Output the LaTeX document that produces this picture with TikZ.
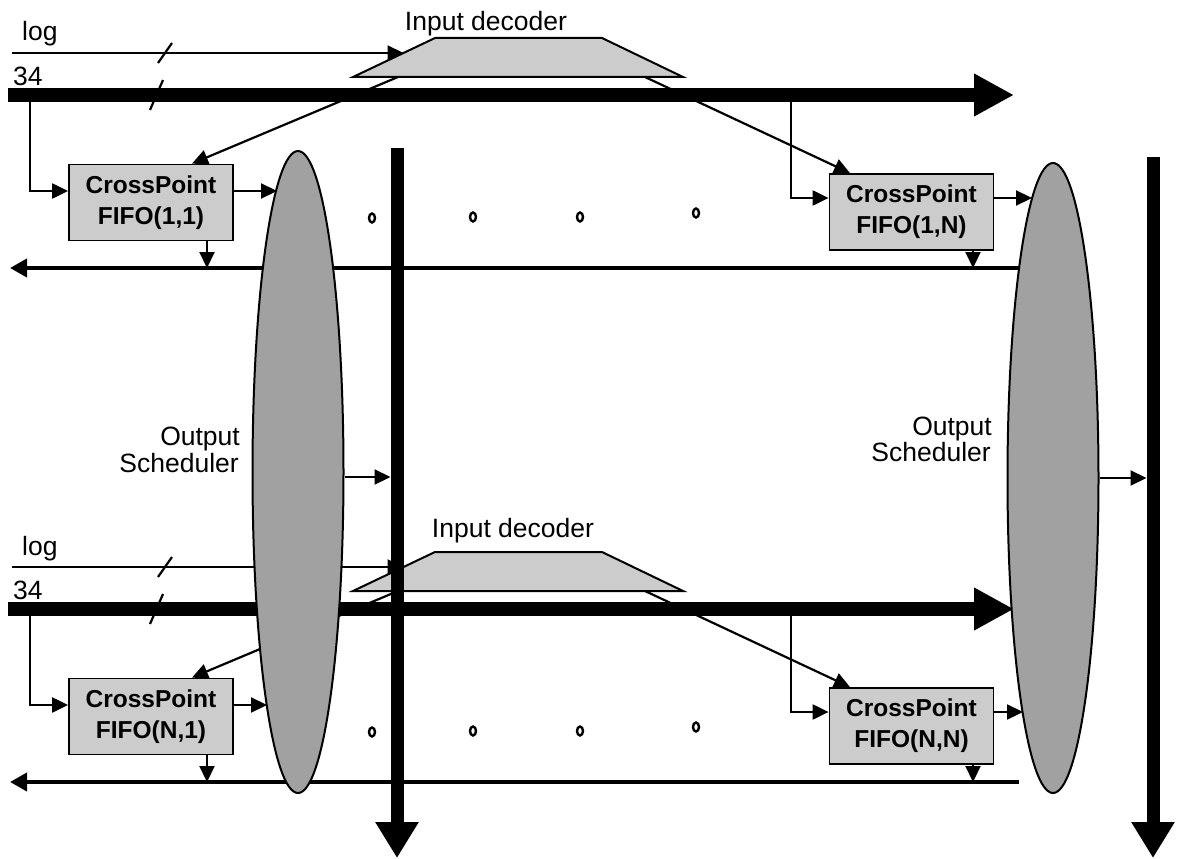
\documentclass[tikz,border=0pt]{standalone}
\usepackage{fontspec}
\setmainfont{Liberation Sans}
\usetikzlibrary{arrows.meta,shapes.geometric}
\definecolor{boxgray}{gray}{0.80}
\definecolor{schedgray}{gray}{0.63}

\begin{document}
\begin{tikzpicture}[x=1pt,y=-1pt,
  lbl/.style={font=\fontsize{26.5}{30}\selectfont, inner sep=0pt},
  fifo/.style={draw, line width=1.8pt, fill=boxgray, minimum width=164pt,
    minimum height=76pt, inner sep=0pt, align=center,
    font=\fontsize{24.5}{31}\bfseries\selectfont},
  wire/.style={line width=2.2pt},
  tip/.style={-{Triangle[length=16pt,width=15pt]}},
  bus/.style={line width=14pt, -{Triangle[length=40pt,width=40pt]}},
  vbus/.style={line width=13pt, -{Triangle[length=36pt,width=41pt]}},
  ret/.style={line width=4pt, -{Triangle[length=17pt,width=18pt]}},
  sched/.style={ellipse, draw, line width=2pt, fill=schedgray, inner sep=0pt,
    minimum width=91pt},
  dot/.style={ellipse, draw, line width=2.4pt, inner sep=0pt,
    minimum width=6pt, minimum height=9pt},
  dec/.style={draw, line width=2pt, fill=boxgray, line join=miter}
]
\useasboundingbox (0,0) rectangle (1179,859);

% one input row of the crossbar (row 1 on top, row N below)
\foreach \s/\dy/\lx/\ly in {1/0/486/31, N/514/513/23} {
\begin{scope}[yshift=-\dy pt]
  % input lines
  \coordinate (logS\s) at (12,53);
  \coordinate (logE\s) at (403.5,53);
  \coordinate (busS\s) at (8,95);
  \coordinate (busE\s) at (1014,95);
  \node[lbl, anchor=base west] (logT\s) at (22,41) {log};
  \node[lbl, anchor=base west] (numT\s) at (13,85) {34};
  \draw[bus] (busS\s) -- (busE\s);
  \draw[wire] (150,110) -- (163,80);

  % input decoder
  \coordinate (dBL\s) at (353,77);
  \coordinate (dTL\s) at (435,38);
  \coordinate (dTR\s) at (602,38);
  \coordinate (dBR\s) at (683,77);
  \path[dec] (dBL\s) -- (dTL\s) -- (dTR\s) -- (dBR\s) -- cycle;
  \node[lbl, anchor=base] (decT\s) at (\lx,\ly) {Input decoder};
  \draw[wire,tip] (logS\s) -- (logE\s);
  \draw[wire] (158,63) -- (172,43);

  % crosspoint buffers
  \node[fifo] (fifoA\s) at (151,202.5) {CrossPoint\\FIFO(\s,1)};
  \node[fifo] (fifoB\s) at (911.5,212) {CrossPoint\\FIFO(\s,N)};

  \coordinate (tapA\s) at (30,95);
  \coordinate (tapB\s) at (791,95);
  \draw[wire,tip] (tapA\s) |- ([yshift=11.5pt]fifoA\s.west);
  \draw[wire,tip] (tapB\s) |- ([yshift=14pt]fifoB\s.west);

  \coordinate (dOutA\s) at (398,77);
  \coordinate (dOutB\s) at (645,77);
  \draw[wire,tip] (dOutA\s) -- ([xshift=41pt]fifoA\s.north);
  \draw[wire,tip] (dOutB\s) -- ([xshift=-61.5pt]fifoB\s.north);

  % return line
  \coordinate (retE\s) at (1019,268);
  \coordinate (retW\s) at (10,268);
  \draw[ret] (retE\s) -- (retW\s);
  \draw[wire,tip] ([xshift=56pt]fifoA\s.south) -- ([xshift=56pt]fifoA\s.south |- retW\s);
  \draw[wire,tip] ([xshift=61.5pt]fifoB\s.south) -- ([xshift=61.5pt]fifoB\s.south |- retW\s);

  % elided crosspoints
  \node[dot] (dotA\s) at (372,218) {};
  \node[dot] (dotB\s) at (473,217) {};
  \node[dot] (dotC\s) at (580,217) {};
  \node[dot] (dotD\s) at (696,213) {};
\end{scope}
}

% output schedulers
\node[sched, minimum height=642pt] (schedL) at (298,472) {};
\node[sched, minimum height=630pt] (schedR) at (1053,478) {};

\coordinate (inA1) at (277,191);
\coordinate (inB1) at (1032,198);
\coordinate (inAN) at (267,705);
\coordinate (inBN) at (1023,712);
\draw[wire,tip] ([yshift=11.5pt]fifoA1.east) -- (inA1);
\draw[wire,tip] ([yshift=14pt]fifoB1.east) -- (inB1);
\draw[wire,tip] ([yshift=11.5pt]fifoAN.east) -- (inAN);
\draw[wire,tip] ([yshift=14pt]fifoBN.east) -- (inBN);

\node[lbl, anchor=base east] (oL1) at (240,445) {Output};
\node[lbl, anchor=base east] (oL2) at (239,472) {Scheduler};
\node[lbl, anchor=base east] (oR1) at (992,435) {Output};
\node[lbl, anchor=base east] (oR2) at (991,461) {Scheduler};

% output columns
\coordinate (colLS) at (397,148);
\coordinate (colLE) at (397,858);
\coordinate (colRS) at (1153,157);
\coordinate (colRE) at (1153,858);
\draw[vbus] (colLS) -- (colLE);
\draw[vbus] (colRS) -- (colRE);

\coordinate (barL) at (390.5,477);
\coordinate (barR) at (1146.5,478);
\draw[wire,tip] ([yshift=-5pt]schedL.east) -- (barL);
\draw[wire,tip] (schedR.east) -- (barR);
\end{tikzpicture}
\end{document}
